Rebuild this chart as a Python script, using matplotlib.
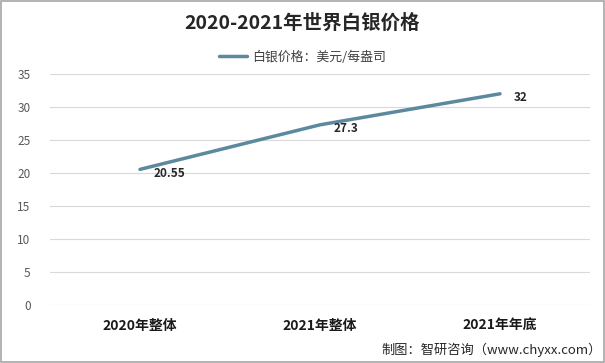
import matplotlib.pyplot as plt
from matplotlib.patches import Rectangle

plt.rcParams['font.family'] = ['Noto Sans CJK SC', 'DejaVu Sans']

# data
categories = ['2020年整体', '2021年整体', '2021年年底']
prices = [20.55, 27.3, 32]
point_labels = ['20.55', '27.3', '32']
yticks = [0, 5, 10, 15, 20, 25, 30, 35]

fig = plt.figure(figsize=(6.05, 3.63), dpi=100)
ax = fig.add_axes([50 / 605, 58 / 363, 540 / 605, 231 / 363])

x = range(len(categories))
ax.plot(x, prices, color='#5B8A9E', linewidth=2.5, solid_capstyle='round',
        label='白银价格：美元/每盎司')
for i, v in enumerate(prices):
    ax.annotate(point_labels[i], (i, v), xytext=(10, -3), textcoords='offset points',
                ha='left', va='center', fontsize=8.5, fontweight='bold', color='#262626')

ax.set_xlim(-0.5, 2.5)
ax.set_ylim(0, 35)
ax.set_yticks(yticks)
ax.set_xticks(list(x))
ax.set_xticklabels(categories, fontsize=10, fontweight='bold', color='#1a1a1a')
ax.tick_params(axis='y', labelsize=8.5, labelcolor='#595959', length=0, pad=14)
ax.tick_params(axis='x', length=0, pad=10)
ax.grid(axis='y', color='#D9D9D9', linewidth=0.8)
ax.set_axisbelow(True)
for s in ax.spines.values():
    s.set_visible(False)

fig.text(0.5, 1 - 23 / 363, '2020-2021年世界白银价格', ha='center', va='center',
         fontsize=14, fontweight='bold', color='#262626')
leg = fig.legend(loc='center', bbox_to_anchor=(0.5, 1 - 57 / 363), frameon=False,
                 fontsize=9.3, handlelength=2.2, handletextpad=0.4)
for t in leg.get_texts():
    t.set_color('#404040')
fig.text(0.995, 1 - 350 / 363, '制图：智研咨询（www.chyxx.com）', ha='right', va='center',
         fontsize=9.5, color='#262626')

fig.patches.append(Rectangle((0.002, 0.003), 0.996, 0.994, transform=fig.transFigure,
                             fill=False, edgecolor='#A6A6A6', linewidth=1.2))

fig.savefig('out.png', dpi=100)
